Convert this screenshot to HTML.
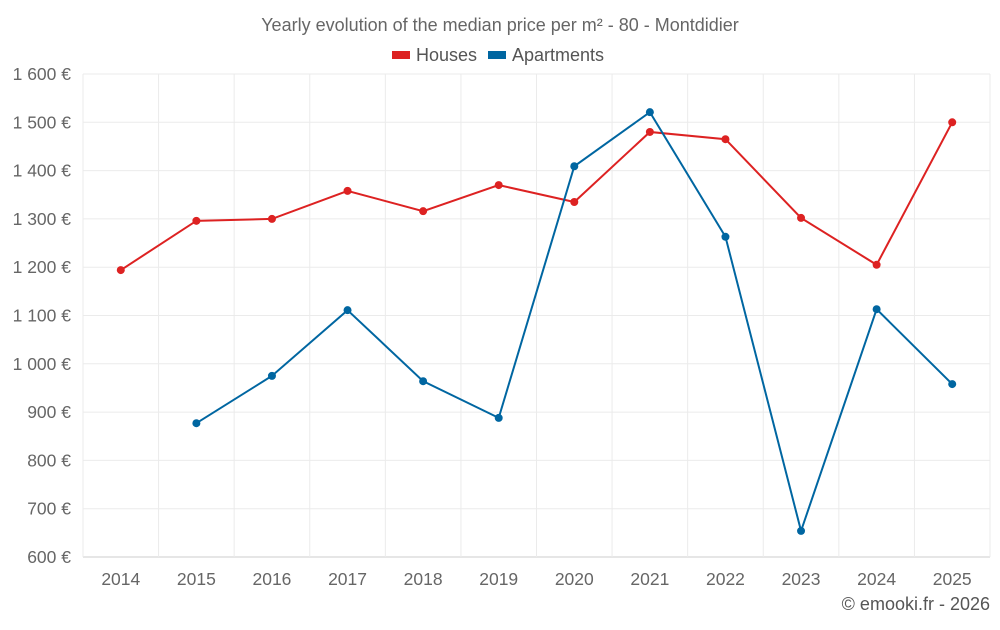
<!DOCTYPE html>
<html><head><meta charset="utf-8"><style>
body{margin:0;background:#fff;font-family:"Liberation Sans",sans-serif;}
svg text{font-family:"Liberation Sans",sans-serif;}
</style></head><body>
<svg id="chart" width="1000" height="625">
<text x="500" y="31" text-anchor="middle" font-size="18" fill="#666">Yearly evolution of the median price per m² - 80 - Montdidier</text>
<g>
<g><rect x="392" y="51" width="18" height="8" fill="#dd2222"/><text x="416" y="61" font-size="18" fill="#555">Houses</text></g>
<g><rect x="488" y="51" width="18" height="8" fill="#0066a1"/><text x="512" y="61" font-size="18" fill="#555">Apartments</text></g>
</g>
<g id="grid"></g>
<g id="axes"></g>
<g id="series"></g>
<text x="990" y="610" text-anchor="end" font-size="18" fill="#555">© emooki.fr - 2026</text>
</svg>
<script>
const years=[2014,2015,2016,2017,2018,2019,2020,2021,2022,2023,2024,2025];
const houses=[1194,1296,1300,1358,1316,1370,1335,1480,1465,1302,1205,1500];
const apartments=[null,877,975,1111,964,888,1409,1521,1263,654,1113,958];
const yTicks=[600,700,800,900,1000,1100,1200,1300,1400,1500,1600];
const NS="http://www.w3.org/2000/svg";
const L=83,R=990,T=74,B=557;
const step=(R-L)/years.length;
const x=i=>L+step*(i+0.5);
const y=v=>B-(v-600)/1000*(B-T);
function mk(tag,attrs,parent){const e=document.createElementNS(NS,tag);for(const k in attrs)e.setAttribute(k,attrs[k]);parent.appendChild(e);return e;}
const grid=document.getElementById('grid'),axes=document.getElementById('axes'),series=document.getElementById('series');
yTicks.forEach(v=>{
 const g=mk('line',{x1:L,x2:R,y1:y(v),y2:y(v),stroke:v===600?'#ccc':'#ebebeb'},grid);
 
 
 const s=String(v).replace(/\B(?=(\d{3})+(?!\d))/g,' ')+' €';
 const t=mk('text',{x:71,y:y(v)+6,'text-anchor':'end','font-size':17.5,fill:'#666'},axes);t.textContent=s;
 
 
});
for(let i=0;i<=years.length;i++){
 const g=mk('line',{x1:L+step*i,x2:L+step*i,y1:T,y2:B,stroke:'#ebebeb'},grid);
 
 
}
years.forEach((yr,i)=>{
 const t=mk('text',{x:x(i),y:585,'text-anchor':'middle','font-size':17.5,fill:'#666'},axes);t.textContent=yr;
 
 
});
function draw(data,color,name){
 let d='';data.forEach((v,i)=>{if(v==null)return;d+=(d?'L':'M')+x(i)+' '+y(v);});
 const p=mk('path',{d:d,fill:'none',stroke:color,'stroke-width':2},series);
 
 
 data.forEach((v,i)=>{if(v==null)return;
  const c=mk('circle',{cx:x(i),cy:y(v),r:4,fill:color},series);
  
  
 });
}
draw(houses,'#dd2222','houses');
draw(apartments,'#0066a1','apartments');
</script>
</body></html>
